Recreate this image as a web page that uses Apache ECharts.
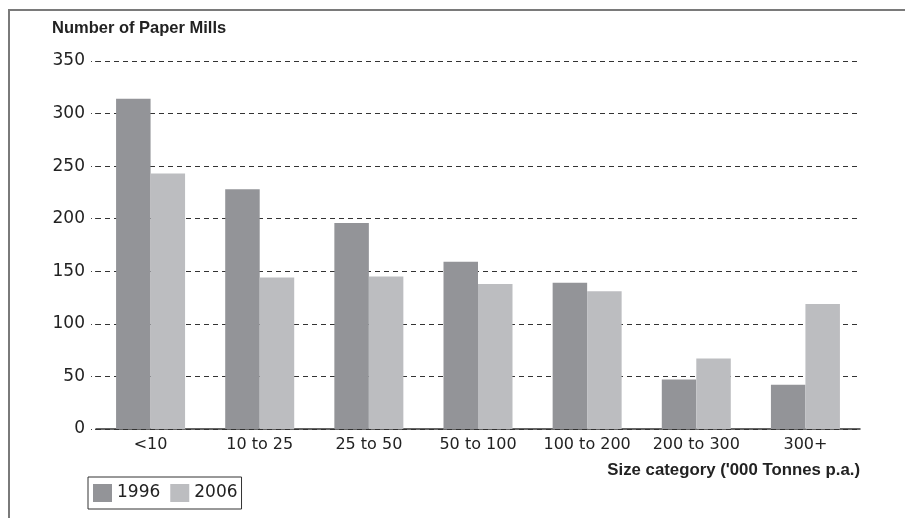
<!DOCTYPE html>
<html>
<head>
<meta charset="utf-8">
<script src="https://cdn.jsdelivr.net/npm/echarts@6/dist/echarts.min.js"></script>
<style>
  html, body { margin: 0; padding: 0; background: #fff; }
  #wrap { position: relative; width: 905px; height: 518px; }
  #chart { width: 905px; height: 518px; }
  #frame { position: absolute; left: 8px; top: 9px; right: 0; bottom: 0;
           border-left: 2px solid #7a7a7a; border-top: 2px solid #7a7a7a; pointer-events: none; }
</style>
</head>
<body>
<div id="wrap">
  <div id="chart"></div>
  <div id="frame"></div>
</div>
<script>
const categories = ['<10', '10 to 25', '25 to 50', '50 to 100', '100 to 200', '200 to 300', '300+'];
const series1996 = [314, 228, 196, 159, 139, 47, 42];
const series2006 = [243, 144, 145, 138, 131, 67, 119];
const yTicks = [0, 50, 100, 150, 200, 250, 300, 350];

const FONT = 'DejaVu Sans';
const chart = echarts.init(document.getElementById('chart'));
chart.setOption({
  animation: false,
  backgroundColor: '#ffffff',
  title: [
    { text: 'Number of Paper Mills', left: 52, top: 20, padding: 0,
      textStyle: { fontFamily: 'Liberation Sans', fontWeight: 'bold', fontSize: 16.5, color: '#222' } },
    { text: "Size category ('000 Tonnes p.a.)", right: 45, top: 462, padding: 0,
      textStyle: { fontFamily: 'Liberation Sans', fontWeight: 'bold', fontSize: 16.8, color: '#222' } }
  ],
  legend: {
    left: 88, top: 477,
    orient: 'horizontal',
    icon: 'rect',
    itemWidth: 19, itemHeight: 18, itemGap: 10,
    padding: [7, 4, 7, 5],
    borderColor: '#333', borderWidth: 1,
    textStyle: { fontFamily: FONT, fontSize: 17, color: '#222', padding: [0, 0, 0, 0] },
    data: ['1996', '2006']
  },
  grid: { left: 96, right: 45, top: 61, bottom: 89, containLabel: false },
  xAxis: {
    type: 'category',
    data: categories,
    axisLine: { show: true, lineStyle: { color: '#333', width: 1.5 } },
    axisTick: { show: false },
    axisLabel: { interval: 0, margin: 8, fontFamily: FONT, fontSize: 16, color: '#222' }
  },
  yAxis: {
    type: 'value',
    min: 0, max: 350, interval: 50,
    axisLine: { show: false },
    axisTick: { show: true, length: 6, lineStyle: { color: '#444', width: 1, type: [1, 3] } },
    axisLabel: { margin: 11, fontFamily: FONT, fontSize: 17, color: '#222',
      formatter: v => yTicks.indexOf(v) >= 0 ? String(v) : '' },
    splitLine: { show: true, lineStyle: { color: '#333', width: 1, type: [5, 4] } }
  },
  series: [
    { name: '1996', type: 'bar', data: series1996, barWidth: 34.5, barGap: '0%',
      itemStyle: { color: '#939498' } },
    { name: '2006', type: 'bar', data: series2006, barWidth: 34.5, barGap: '0%',
      itemStyle: { color: '#bcbdc0' } }
  ]
});
</script>
</body>
</html>
